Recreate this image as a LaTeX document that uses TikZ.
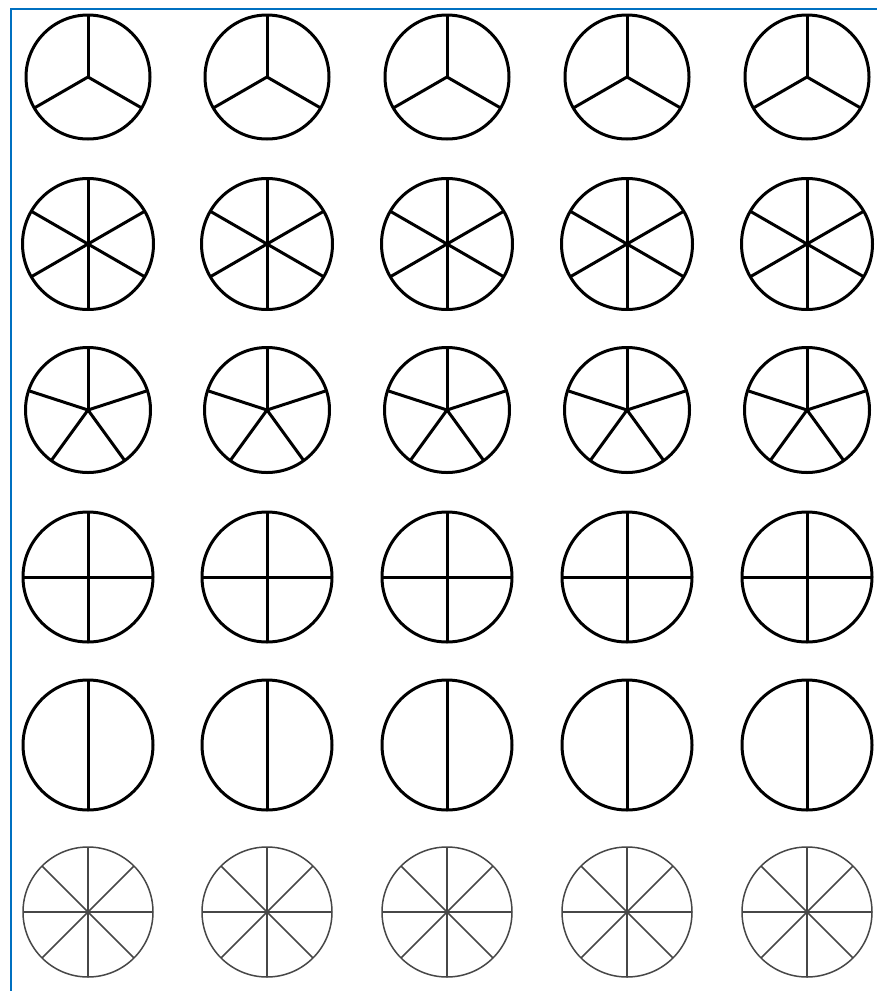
\documentclass[tikz,border=0pt]{standalone}
\usepackage{tikz}
\definecolor{azulmarco}{RGB}{0,112,192}

\begin{document}
\begin{tikzpicture}[
            x=1pt, y=-1pt,
            rueda/.style={line width=3pt, black, line join=round},
            fina/.style={line width=1.5pt, black!72, line join=round},
            marco/.style={line width=2.8pt, azulmarco}
        ]
        \useasboundingbox (0,0) rectangle (877,991);

        % Marco azul (arriba e izquierda)
        \coordinate (esquina) at (11,9);
        \draw[marco] (877,9) -- (esquina) -- (11,991);

        % --- Tercios ---
        \foreach \x in {88,267,447,627,807} {
            \draw[rueda] (\x,77) circle[radius=62pt];
            \foreach \a in {90,210,330}
                \draw[rueda] (\x,77) -- ++(\a:62pt);
        }

        % --- Sextos ---
        \foreach \x in {88,267,447,627,807} {
            \draw[rueda] (\x,244) circle[radius=65.5pt];
            \foreach \a in {30,90,...,330}
                \draw[rueda] (\x,244) -- ++(\a:65.5pt);
        }

        % --- Quintos ---
        \foreach \x in {88,267,447,627,807} {
            \draw[rueda] (\x,410) circle[radius=62.5pt];
            \foreach \a in {90,162,234,306,18}
                \draw[rueda] (\x,410) -- ++(\a:62.5pt);
        }

        % --- Cuartos ---
        \foreach \x in {88,267,447,627,807} {
            \draw[rueda] (\x,577) circle[radius=65pt];
            \foreach \a in {0,90,180,270}
                \draw[rueda] (\x,577) -- ++(\a:65pt);
        }

        % --- Medios ---
        \foreach \x in {88,267,447,627,807} {
            \draw[rueda] (\x,745) circle[radius=65pt];
            \foreach \a in {90,270}
                \draw[rueda] (\x,745) -- ++(\a:65pt);
        }

        % --- Octavos ---
        \foreach \x in {88,267,447,627,807} {
            \draw[fina] (\x,912) circle[radius=65pt];
            \foreach \a in {0,45,...,315}
                \draw[fina] (\x,912) -- ++(\a:65pt);
        }

        \end{tikzpicture}
\end{document}
